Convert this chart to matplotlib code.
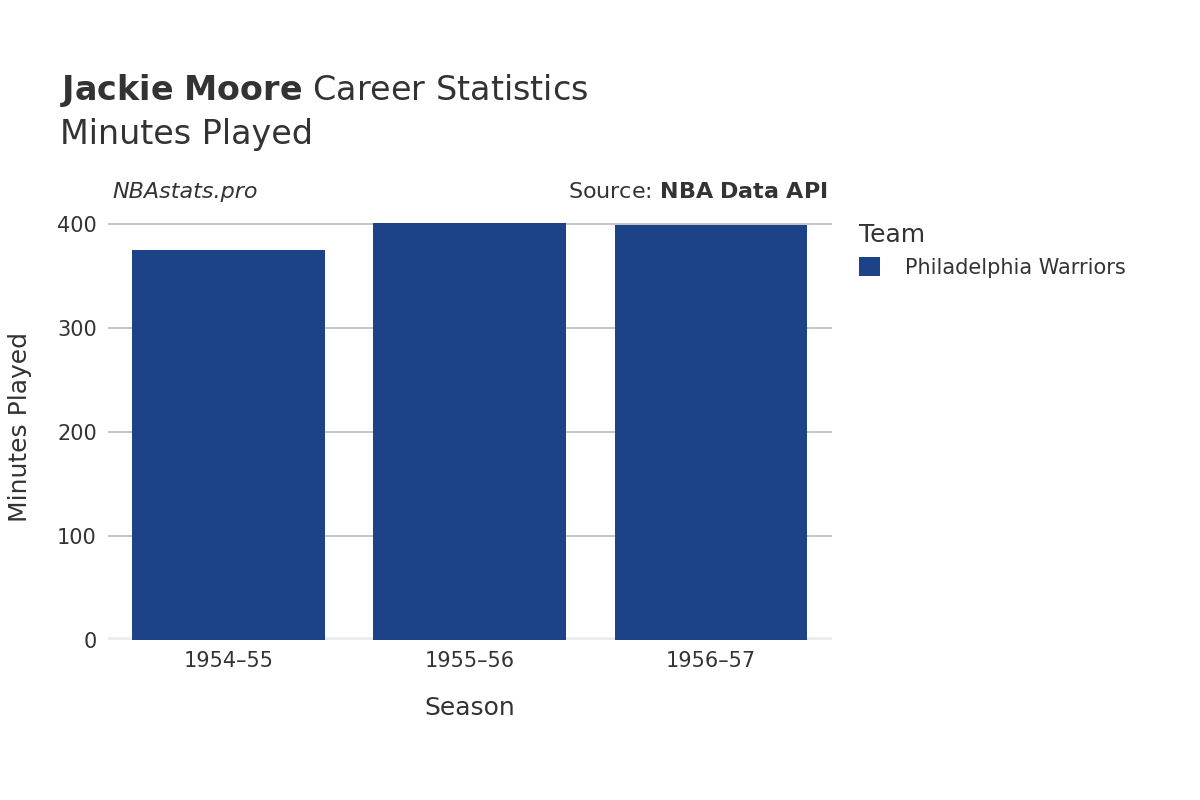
import matplotlib
matplotlib.use("Agg")
import matplotlib.pyplot as plt

seasons = ["1954–55", "1955–56", "1956–57"]
minutes = [375, 401, 399]
team = "Philadelphia Warriors"
color = "#1c4288"
yticks = [0, 100, 200, 300, 400]

fig = plt.figure(figsize=(12, 8), dpi=100)
ax = fig.add_axes([0.09, 0.2, 0.603, 0.533])
x = range(len(seasons))
ax.bar(x, minutes, width=0.8, color=color, zorder=3, label=team)
ax.set_xlim(-0.5, 2.5)
ax.set_ylim(0, 410)
ax.set_yticks(yticks)
ax.set_xticks(list(x))
ax.set_xticklabels(seasons)
ax.grid(axis="y", color="#bbbbbb", linewidth=1.2, zorder=0)
ax.axhline(0, color="#ebebf0", linewidth=4, zorder=2)
for s in ax.spines.values():
    s.set_visible(False)
ax.tick_params(length=0, labelsize=15, labelcolor="#333333", pad=8)
ax.set_xlabel("Season", fontsize=18, color="#333333", labelpad=18)
ax.set_ylabel("Minutes Played", fontsize=18, color="#333333", labelpad=18)

fig.text(0.05, 0.875, r"$\bf{Jackie\ Moore}$ Career Statistics", fontsize=24, color="#333333", va="baseline")
fig.text(0.05, 0.82, "Minutes Played", fontsize=24, color="#333333", va="baseline")
fig.text(0.094, 0.752, "NBAstats.pro", fontsize=16, style="italic", color="#333333", va="baseline")
fig.text(0.69, 0.752, r"Source: $\bf{NBA\ Data\ API}$", fontsize=16, color="#333333", va="baseline", ha="right")

leg = fig.legend(loc="upper left", bbox_to_anchor=(0.7, 0.745), frameon=False, title="Team",
                 fontsize=15, title_fontsize=18, handlelength=1, handleheight=1, handletextpad=1.2)
leg._legend_box.align = "left"
for t in leg.get_texts():
    t.set_color("#333333")
leg.get_title().set_color("#333333")

fig.savefig("out.png", dpi=100)
